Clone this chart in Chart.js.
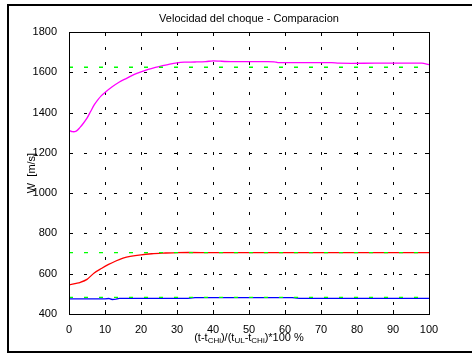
<!DOCTYPE html>
<html lang="es">
<head>
<meta charset="UTF-8">
<title>Velocidad del choque</title>
<script src="https://cdn.jsdelivr.net/npm/chart.js"></script>
<style>
  html, body { margin: 0; padding: 0; background: #fff; }
  #wrap { width: 472px; height: 354px; position: relative; }
</style>
</head>
<body>
<div id="wrap"><canvas id="chart" width="472" height="354"></canvas></div>
<script>
// values
const magentaX = [0, 1, 2, 3, 4, 5, 6, 7, 8, 9, 10, 12, 14, 16, 18, 20, 22, 24, 26, 28, 30, 32, 35, 38, 40, 42, 45, 50, 55, 57, 58, 65, 73, 75, 85, 98, 100];
const magentaY = [1312, 1305, 1308, 1325, 1347, 1372, 1405, 1438, 1463, 1484, 1500, 1528, 1552, 1570, 1588, 1602, 1614, 1624, 1633, 1641, 1647, 1650, 1651, 1653, 1657, 1655, 1653, 1653, 1653, 1652, 1648, 1648, 1648, 1645, 1645, 1645, 1638];

const redX = [0, 2, 3, 5, 7, 9, 11, 13, 15, 17, 20, 23, 26, 30, 40, 60, 80, 100];
const redY = [545, 552, 556, 572, 604, 626, 646, 663, 677, 686, 694, 699, 702, 705, 705, 705, 705, 705];

const blueX = [0, 10, 11, 12, 13, 14, 33, 35, 62, 64, 100];
const blueY = [475, 475, 477, 472, 474, 478, 478, 481, 481, 478, 478];

const refLevels = [1625, 705, 483];   // green dashed reference lines
const refX = [0, 100];

const xTicks = [0, 10, 20, 30, 40, 50, 60, 70, 80, 90, 100];
const yTicks = [400, 600, 800, 1000, 1200, 1400, 1600, 1800];

const FONT = "'Liberation Sans', Arial, sans-serif";

function pts(xs, ys) {
    return xs.map((x, i) => ({ x: x, y: ys[i] }));
}

const datasets = [];
refLevels.forEach(v => {
    datasets.push({
        data: pts(refX, refX.map(() => v)),
        borderColor: "#00ff00",
        borderWidth: 1.3,
        borderDash: [4, 11],
        pointRadius: 0,
        tension: 0
    });
});
datasets.push({ data: pts(magentaX, magentaY), borderColor: "#ff00ff", borderWidth: 1.3, pointRadius: 0, tension: 0.3 });
datasets.push({ data: pts(redX, redY), borderColor: "#ff0000", borderWidth: 1.3, pointRadius: 0, tension: 0.3 });
datasets.push({ data: pts(blueX, blueY), borderColor: "#0000ff", borderWidth: 1.3, pointRadius: 0, tension: 0 });

// matlab style: dotted grid, box, inward ticks, figure frame, titles
const matlabLook = {
    id: "matlabLook",
    beforeDatasetsDraw(chart) {
        const { ctx, chartArea: a, scales: { x, y } } = chart;
        ctx.save();
        ctx.strokeStyle = "#000";
        ctx.lineWidth = 1;
        ctx.setLineDash([3, 12]);
        xTicks.forEach(t => {
            const px = Math.round(x.getPixelForValue(t)) + 0.5;
            ctx.beginPath(); ctx.moveTo(px, a.top); ctx.lineTo(px, a.bottom); ctx.stroke();
        });
        yTicks.forEach(t => {
            const py = Math.round(y.getPixelForValue(t)) + 0.5;
            ctx.beginPath(); ctx.moveTo(a.left, py); ctx.lineTo(a.right, py); ctx.stroke();
        });
        ctx.restore();
    },
    afterDatasetsDraw(chart) {
        const { ctx, chartArea: a, scales: { x, y } } = chart;
        ctx.save();
        ctx.strokeStyle = "#000";
        ctx.lineWidth = 1;
        ctx.setLineDash([]);
        ctx.strokeRect(Math.round(a.left) + 0.5, Math.round(a.top) + 0.5,
            Math.round(a.right - a.left), Math.round(a.bottom - a.top));
        const tl = 4;
        ctx.beginPath();
        xTicks.forEach(t => {
            const px = Math.round(x.getPixelForValue(t)) + 0.5;
            ctx.moveTo(px, a.bottom); ctx.lineTo(px, a.bottom - tl);
            ctx.moveTo(px, a.top); ctx.lineTo(px, a.top + tl);
        });
        yTicks.forEach(t => {
            const py = Math.round(y.getPixelForValue(t)) + 0.5;
            ctx.moveTo(a.left, py); ctx.lineTo(a.left + tl, py);
            ctx.moveTo(a.right, py); ctx.lineTo(a.right - tl, py);
        });
        ctx.stroke();

        // figure frame (left, top, bottom)
        ctx.lineWidth = 2;
        ctx.beginPath();
        ctx.moveTo(472, 5); ctx.lineTo(8, 5); ctx.lineTo(8, 352); ctx.lineTo(472, 352);
        ctx.stroke();

        const cx = (a.left + a.right) / 2;
        ctx.fillStyle = "#000";
        ctx.textBaseline = "middle";

        // title
        ctx.font = "11px " + FONT;
        ctx.textAlign = "center";
        ctx.fillText("Velocidad del choque - Comparacion", cx, 19);

        // y label
        ctx.save();
        ctx.translate(32, (a.top + a.bottom) / 2);
        ctx.rotate(-Math.PI / 2);
        ctx.fillText("W  [m/s]", 0, 0);
        ctx.restore();

        // x label with subscripts
        const parts = [
            ["(t-t", false], ["CHi", true], [")/(t", false], ["UL", true],
            ["-t", false], ["CHi", true], [")*100 %", false]
        ];
        const big = "11px " + FONT, small = "8px " + FONT;
        let w = 0;
        parts.forEach(p => { ctx.font = p[1] ? small : big; w += ctx.measureText(p[0]).width; });
        let px = cx - w / 2;
        ctx.textAlign = "left";
        parts.forEach(p => {
            ctx.font = p[1] ? small : big;
            ctx.fillText(p[0], px, p[1] ? 341 : 338);
            px += ctx.measureText(p[0]).width;
        });
        ctx.restore();
    }
};

new Chart(document.getElementById("chart"), {
    type: "line",
    data: { datasets: datasets },
    options: {
        responsive: false,
        animation: false,
        layout: { padding: { left: 0, top: 32, right: 43, bottom: 0 } },
        plugins: { legend: { display: false }, tooltip: { enabled: false } },
        scales: {
            x: {
                type: "linear",
                min: 0, max: 100,
                afterBuildTicks: s => { s.ticks = xTicks.map(v => ({ value: v })); },
                afterFit: s => { s.height = 40; },
                grid: { display: false },
                border: { display: false },
                ticks: { color: "#000", font: { family: FONT, size: 11 }, padding: 1, maxRotation: 0,
                         callback: v => String(v) }
            },
            y: {
                type: "linear",
                min: 400, max: 1800,
                afterBuildTicks: s => { s.ticks = yTicks.map(v => ({ value: v })); },
                afterFit: s => { s.width = 69; },
                grid: { display: false },
                border: { display: false },
                ticks: { color: "#000", font: { family: FONT, size: 11 }, padding: 4,
                         callback: v => String(v) }
            }
        }
    },
    plugins: [matlabLook]
});
</script>
</body>
</html>
